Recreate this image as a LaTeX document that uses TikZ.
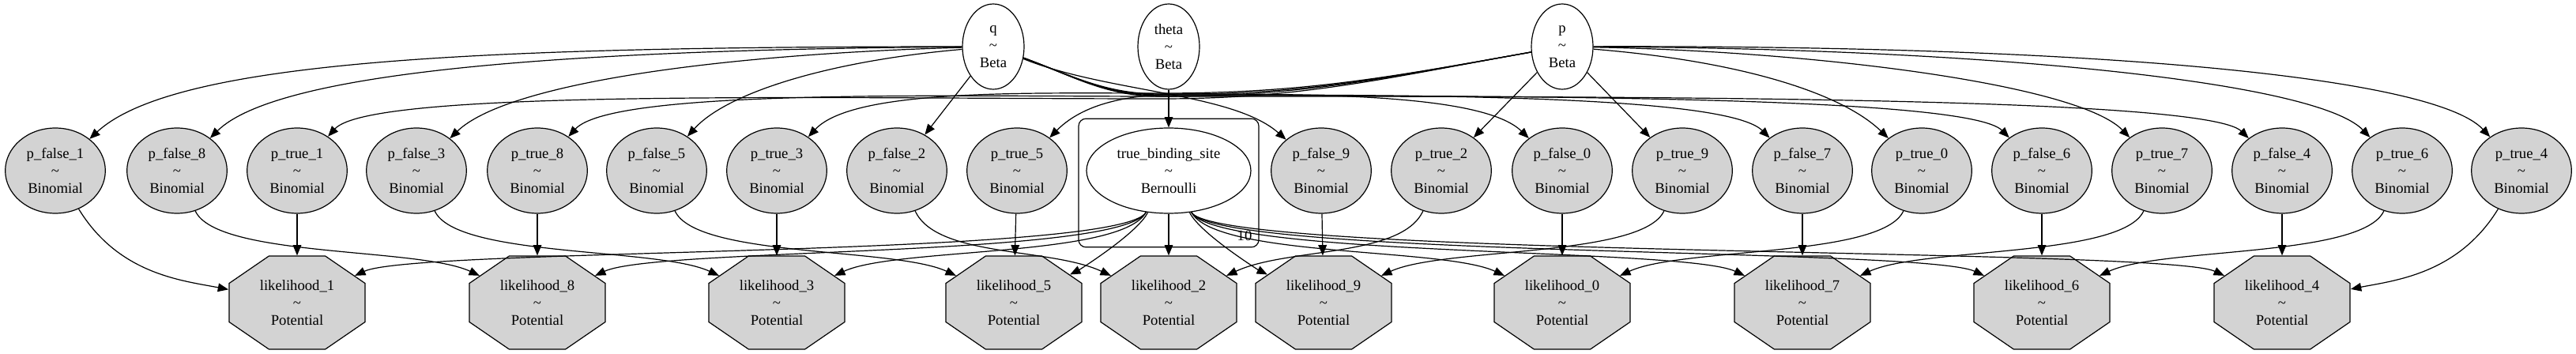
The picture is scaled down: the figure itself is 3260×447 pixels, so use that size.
\documentclass[tikz,border=0pt]{standalone}
\usepackage{fontspec}
\setmainfont{Liberation Serif}
\usetikzlibrary{shapes.geometric}
\usetikzlibrary{arrows.meta}
\definecolor{nodegray}{HTML}{D3D3D3}
\begin{document}
\begin{tikzpicture}[x=0.75pt,y=0.75pt,
  every node/.style={font=\fontsize{14}{16.5}\selectfont, align=center},
  freenode/.style={draw, line width=0.9pt, ellipse, inner sep=0pt, minimum width=58.5pt, minimum height=81pt},
  obsnode/.style={freenode, fill=nodegray, minimum width=95pt},
  potnode/.style={draw, line width=0.9pt, fill=nodegray, regular polygon, regular polygon sides=8, inner sep=0pt, minimum size=95.8pt, xscale=1.458, transform shape},
  platebox/.style={draw, line width=0.9pt, rounded corners=7pt, minimum width=171pt, minimum height=122pt},
  conn/.style={line width=0.9pt, -{Triangle[length=10pt,width=8pt]}}]
\useasboundingbox (0,0) rectangle (3260,447);
% priors
\node [freenode] (q) at (1257,388) {q\\\textasciitilde\\Beta};
\node [freenode] (theta) at (1479,388) {theta\\\textasciitilde\\Beta};
\node [freenode] (p) at (1977,388) {p\\\textasciitilde\\Beta};
% plate
\node [platebox] (plate) at (1479,215.5) {};
\node (platelabel) at (1575,149) {10};
\node [freenode, minimum width=156pt] (tbs) at (1479,231) {true\_binding\_site\\\textasciitilde\\Bernoulli};
% observed counts
\node [obsnode] (pf1) at (70,231) {p\_false\_1\\\textasciitilde\\Binomial};
\node [obsnode] (pf8) at (224,231) {p\_false\_8\\\textasciitilde\\Binomial};
\node [obsnode] (pt1) at (376,231) {p\_true\_1\\\textasciitilde\\Binomial};
\node [obsnode] (pf3) at (527,231) {p\_false\_3\\\textasciitilde\\Binomial};
\node [obsnode] (pt8) at (680,231) {p\_true\_8\\\textasciitilde\\Binomial};
\node [obsnode] (pf5) at (831,231) {p\_false\_5\\\textasciitilde\\Binomial};
\node [obsnode] (pt3) at (983,231) {p\_true\_3\\\textasciitilde\\Binomial};
\node [obsnode] (pf2) at (1135,231) {p\_false\_2\\\textasciitilde\\Binomial};
\node [obsnode] (pt5) at (1287,231) {p\_true\_5\\\textasciitilde\\Binomial};
\node [obsnode] (pf9) at (1672,231) {p\_false\_9\\\textasciitilde\\Binomial};
\node [obsnode] (pt2) at (1824,231) {p\_true\_2\\\textasciitilde\\Binomial};
\node [obsnode] (pf0) at (1977,231) {p\_false\_0\\\textasciitilde\\Binomial};
\node [obsnode] (pt9) at (2129,231) {p\_true\_9\\\textasciitilde\\Binomial};
\node [obsnode] (pf7) at (2281,231) {p\_false\_7\\\textasciitilde\\Binomial};
\node [obsnode] (pt0) at (2432,231) {p\_true\_0\\\textasciitilde\\Binomial};
\node [obsnode] (pf6) at (2584,231) {p\_false\_6\\\textasciitilde\\Binomial};
\node [obsnode] (pt7) at (2736,231) {p\_true\_7\\\textasciitilde\\Binomial};
\node [obsnode] (pf4) at (2888,231) {p\_false\_4\\\textasciitilde\\Binomial};
\node [obsnode] (pt6) at (3040,231) {p\_true\_6\\\textasciitilde\\Binomial};
\node [obsnode] (pt4) at (3191,231) {p\_true\_4\\\textasciitilde\\Binomial};
% potentials
\foreach \i/\x in {1/376, 8/680, 3/983, 5/1283, 2/1479, 9/1675, 0/1977, 7/2281, 6/2584, 4/2888} {
  \node [potnode] (l\i) at (\x,64) {};
  \node (l\i txt) at (l\i) {likelihood\_\i\\\textasciitilde\\Potential};
}
% q -> p_false
\draw [conn] (q) .. controls (600,388) and (220,370) .. (pf1);
\draw [conn] (q) .. controls (700,384) and (350,355) .. (pf8);
\draw [conn] (q) .. controls (900,378) and (640,340) .. (pf3);
\draw [conn] (q) .. controls (1050,370) and (920,330) .. (pf5);
\draw [conn] (q) -- (pf2);
\draw [conn] (q) .. controls (1400,330) and (1560,330) .. (pf9);
\draw [conn] (q) .. controls (1362,349) and (1400,328) .. (1470,328) .. controls (1650,328) and (1875,330) .. (pf0);
\draw [conn] (q) .. controls (1362,349) and (1400,327) .. (1470,327) .. controls (1770,327) and (2184,328) .. (pf7);
\draw [conn] (q) .. controls (1362,349) and (1400,326) .. (1470,326) .. controls (1900,326) and (2490,326) .. (pf6);
\draw [conn] (q) .. controls (1362,349) and (1400,325) .. (1470,325) .. controls (2030,325) and (2790,326) .. (pf4);
% p -> p_true
\draw [conn] (p) .. controls (1757,349) and (1650,322) .. (1470,322) .. controls (1050,322) and (470,335) .. (pt1);
\draw [conn] (p) .. controls (1757,349) and (1650,325) .. (1470,325) .. controls (1200,325) and (775,335) .. (pt8);
\draw [conn] (p) .. controls (1757,349) and (1650,329) .. (1470,329) .. controls (1300,329) and (1080,335) .. (pt3);
\draw [conn] (p) .. controls (1757,349) and (1650,328) .. (1500,328) .. controls (1440,328) and (1375,320) .. (pt5);
\draw [conn] (p) -- (pt2);
\draw [conn] (p) -- (pt9);
\draw [conn] (p) .. controls (2200,370) and (2330,330) .. (pt0);
\draw [conn] (p) .. controls (2300,382) and (2630,340) .. (pt7);
\draw [conn] (p) .. controls (2500,386) and (2930,345) .. (pt6);
\draw [conn] (p) .. controls (2650,390) and (3080,350) .. (pt4);
\draw [conn] (theta) -- (tbs);
% counts -> potentials
\draw [conn] (pf1) .. controls (150,100) and (230,92) .. (l1);
\draw [conn] (pt1) -- (l1);
\draw [conn] (pf8) .. controls +(50,-110) and +(-150,70) .. (l8);
\draw [conn] (pt8) -- (l8);
\draw [conn] (pf3) .. controls +(50,-110) and +(-150,70) .. (l3);
\draw [conn] (pt3) -- (l3);
\draw [conn] (pf5) .. controls +(50,-110) and +(-150,70) .. (l5);
\draw [conn] (pt5) -- (l5);
\draw [conn] (pf2) .. controls +(50,-110) and +(-150,70) .. (l2);
\draw [conn] (pt2) .. controls +(-50,-110) and +(150,70) .. (l2);
\draw [conn] (pf9) -- (l9);
\draw [conn] (pt9) .. controls +(-50,-110) and +(150,70) .. (l9);
\draw [conn] (pf0) -- (l0);
\draw [conn] (pt0) .. controls +(-50,-110) and +(150,70) .. (l0);
\draw [conn] (pf7) -- (l7);
\draw [conn] (pt7) .. controls +(-50,-110) and +(150,70) .. (l7);
\draw [conn] (pf6) -- (l6);
\draw [conn] (pt6) .. controls +(-50,-110) and +(150,70) .. (l6);
\draw [conn] (pf4) -- (l4);
\draw [conn] (pt4) .. controls (3111,100) and (3030,92) .. (l4);
% binding site -> potentials
\draw [conn] (tbs) .. controls +(-60,-110) and +(150,70) .. (l1);
\draw [conn] (tbs) .. controls +(-60,-110) and +(150,70) .. (l8);
\draw [conn] (tbs) .. controls +(-60,-110) and +(150,70) .. (l3);
\draw [conn] (tbs) .. controls +(-40,-80) and +(80,40) .. (l5);
\draw [conn] (tbs) -- (l2);
\draw [conn] (tbs) .. controls +(40,-80) and +(-80,40) .. (l9);
\draw [conn] (tbs) .. controls +(60,-110) and +(-150,70) .. (l0);
\draw [conn] (tbs) .. controls +(60,-110) and +(-150,70) .. (l7);
\draw [conn] (tbs) .. controls +(60,-110) and +(-150,70) .. (l6);
\draw [conn] (tbs) .. controls +(60,-110) and +(-150,70) .. (l4);
\end{tikzpicture}
\end{document}
